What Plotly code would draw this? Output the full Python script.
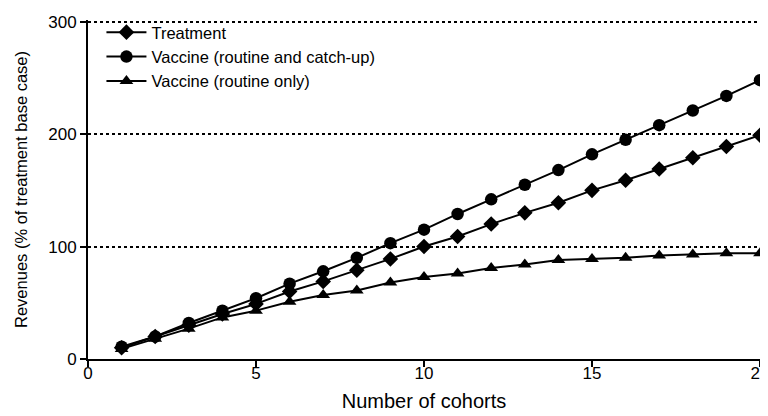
import plotly.graph_objects as go

cohorts = list(range(1, 21))
treatment = [10, 20, 30, 40, 49, 60, 69, 79, 89, 100, 109, 120, 130, 139, 150, 159, 169, 179, 189, 199]
vaccine_catchup = [11, 20, 32, 43, 54, 67, 78, 90, 103, 115, 129, 142, 155, 168, 182, 195, 208, 221, 234, 248]
vaccine_routine = [9, 18, 27, 37, 43, 51, 57, 61, 68, 73, 76, 81, 84, 88, 89, 90, 92, 93, 94, 94]

series = [
    ("Treatment", treatment, "diamond", 12),
    ("Vaccine (routine and catch-up)", vaccine_catchup, "circle", 12.5),
    ("Vaccine (routine only)", vaccine_routine, "triangle-up", 12),
]

fig = go.Figure()
for name, vals, sym, sz in series:
    fig.add_trace(go.Scatter(
        x=cohorts, y=vals, name=name, mode="lines+markers",
        line=dict(color="black", width=2),
        marker=dict(symbol=sym, size=sz, color="black"),
        cliponaxis=False,
    ))

font = "Liberation Sans, Arial, sans-serif"
# page body has an 8px default margin: figure is 760x408 placed at (8, 8)
fig.update_layout(
    width=760, height=408,
    margin=dict(l=80, r=8, t=11, b=57),
    plot_bgcolor="white", paper_bgcolor="white",
    font=dict(family=font, size=17, color="black"),
    showlegend=True,
    legend=dict(x=0.02, y=1.012, xanchor="left", yanchor="top",
                font=dict(size=16.5), bgcolor="rgba(0,0,0,0)",
                tracegroupgap=0, itemwidth=40),
    xaxis=dict(range=[0, 20], tickvals=[0, 5, 10, 15, 20],
               showline=True, linecolor="black", linewidth=2,
               ticks="outside", ticklen=6, tickwidth=2, tickcolor="black",
               showgrid=False, zeroline=False, automargin=False,
               ticklabeloverflow="allow", ticklabelstandoff=-8,
               title=dict(text="Number of cohorts", standoff=12)),
    yaxis=dict(range=[0, 301.5], tickvals=[0, 100, 200, 300],
               showline=True, linecolor="black", linewidth=2,
               ticks="outside", ticklen=6, tickwidth=2, tickcolor="black",
               showgrid=True, gridcolor="black", gridwidth=1.5, griddash="dot",
               zeroline=False, automargin=False,
               ticklabeloverflow="allow",
               title=dict(text="Revenues (% of treatment base case)", standoff=16,
                          font=dict(size=16.5))),
)

fig.write_html("out.html")
